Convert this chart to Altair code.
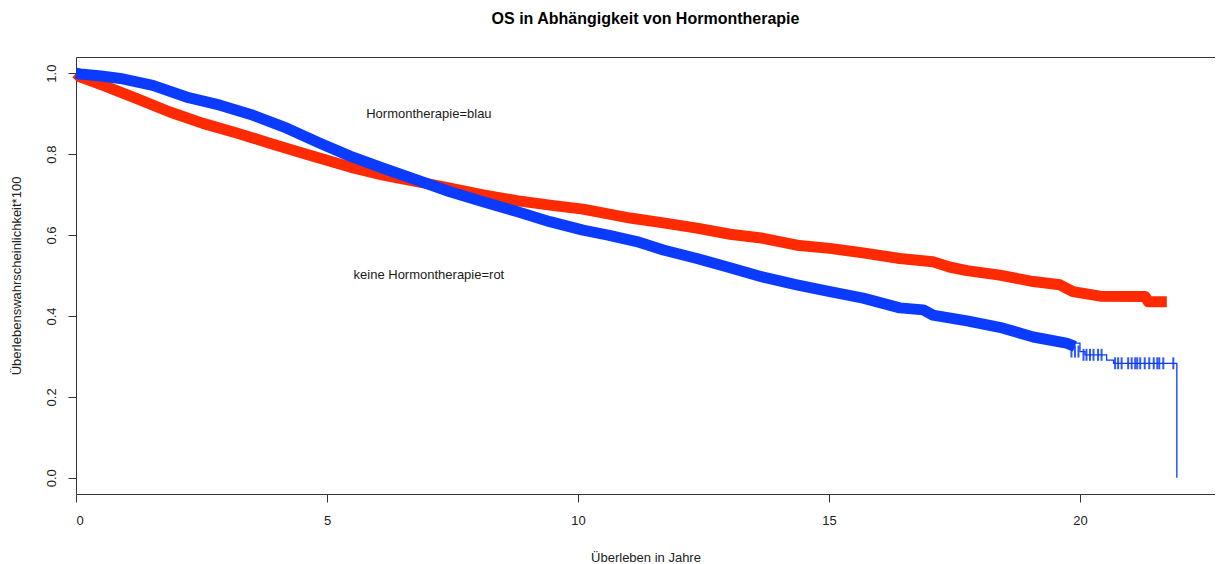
import altair as alt
import pandas as pd

# Hormontherapie (blau): dense band of censoring marks
blue_t = [0, 0.08, 0.5, 0.88, 1.53, 2.2, 2.87, 3.53, 4.2, 4.86, 5.46, 6.12, 6.79,
          7.45, 8.11, 8.78, 9.44, 10.1, 10.6, 11.17, 11.7, 12.37, 13.03, 13.69,
          14.36, 15.02, 15.68, 16.41, 16.88, 17.07, 17.75, 18.4, 19.07, 19.73, 19.9]
blue_s = [1.0, 0.998, 0.993, 0.987, 0.970, 0.941, 0.921, 0.896, 0.864, 0.827, 0.795,
          0.765, 0.736, 0.707, 0.682, 0.658, 0.633, 0.612, 0.600, 0.584, 0.563,
          0.542, 0.519, 0.496, 0.477, 0.460, 0.444, 0.420, 0.415, 0.402, 0.388,
          0.372, 0.348, 0.333, 0.325]

# blue tail: thin step curve
blue_tail_t = [19.73, 20.0, 20.1, 20.53, 20.67, 21.93]
blue_tail_s = [0.333, 0.312, 0.304, 0.291, 0.283, 0.0]

# blue tail censoring marks
blue_cens_t = [19.83, 19.90, 19.97, 20.07, 20.13, 20.20, 20.27, 20.36, 20.43,
               20.70, 20.76, 20.83, 20.96, 21.03, 21.10, 21.14, 21.20, 21.29,
               21.38, 21.47, 21.54, 21.58, 21.66, 21.86]
blue_cens_s = [0.312, 0.312, 0.312, 0.304, 0.304, 0.304, 0.304, 0.304, 0.304,
               0.283, 0.283, 0.283, 0.283, 0.283, 0.283, 0.283, 0.283, 0.283,
               0.283, 0.283, 0.283, 0.283, 0.283, 0.283]

# keine Hormontherapie (rot)
red_t = [0, 0.08, 0.54, 1.2, 1.87, 2.53, 3.2, 3.86, 4.52, 5.46, 6.12, 6.79, 7.45,
         8.11, 8.78, 9.44, 10.1, 11.04, 11.7, 12.37, 13.03, 13.69, 14.36, 15.02,
         15.68, 16.41, 17.07, 17.4, 17.75, 18.4, 19.07, 19.6, 19.86, 20.4, 21.3,
         21.36, 21.73]
red_s = [1.0, 0.991, 0.970, 0.938, 0.904, 0.876, 0.852, 0.827, 0.802, 0.768, 0.748,
         0.732, 0.716, 0.699, 0.685, 0.674, 0.664, 0.642, 0.630, 0.617, 0.602,
         0.592, 0.575, 0.567, 0.556, 0.542, 0.534, 0.521, 0.512, 0.501, 0.485,
         0.477, 0.460, 0.449, 0.448, 0.435, 0.435]

note_text = ["Hormontherapie=blau", "keine Hormontherapie=rot"]
note_x = [7.03, 7.03]
note_y = [0.899, 0.501]

x_ticks = [0, 5, 10, 15, 20]
y_ticks = [0.0, 0.2, 0.4, 0.6, 0.8, 1.0]

BLUE = "#0a3bff"
RED = "#ff2a00"
FONT = "Liberation Sans"

xs = alt.Scale(domain=[0, 22.69], nice=False, zero=False)
ys = alt.Scale(domain=[-0.04, 1.04], nice=False, zero=False)

x_enc = alt.X("t:Q", scale=xs,
              axis=alt.Axis(values=x_ticks, title="Überleben in Jahre",
                            titleY=63, titleBaseline="middle"))
y_enc = alt.Y("s:Q", scale=ys,
              axis=alt.Axis(values=y_ticks, format=".1f",
                            title="Überlebenswahrscheinlichkeit*100",
                            labelAngle=-90, labelAlign="center", labelBaseline="bottom",
                            titleX=-53, titleY=218.5))

red_df = pd.DataFrame({"t": red_t, "s": red_s})
blue_df = pd.DataFrame({"t": blue_t, "s": blue_s})
blue_tail_df = pd.DataFrame({"t": blue_tail_t, "s": blue_tail_s})
blue_cens_df = pd.DataFrame({"t": blue_cens_t, "s": blue_cens_s})
note_df = pd.DataFrame({"t": note_x, "s": note_y, "label": note_text})

red_band = alt.Chart(red_df).mark_line(color=RED, strokeWidth=11, strokeCap="butt",
                                       strokeJoin="round").encode(x=x_enc, y=y_enc)
blue_band = alt.Chart(blue_df).mark_line(color=BLUE, strokeWidth=11, strokeCap="butt",
                                         strokeJoin="round").encode(x=x_enc, y=y_enc)
blue_tail = alt.Chart(blue_tail_df).mark_line(color=BLUE, strokeWidth=1.3,
                                              interpolate="step-after").encode(x=x_enc, y=y_enc)
blue_cens = alt.Chart(blue_cens_df).mark_tick(color=BLUE, orient="vertical", size=12,
                                              thickness=2, opacity=0.85).encode(x=x_enc, y=y_enc)
notes = alt.Chart(note_df).mark_text(font=FONT, fontSize=13, color="#1a1a1a").encode(
    x=x_enc, y=y_enc, text="label:N")

chart = alt.layer(red_band, blue_band, blue_tail, blue_cens, notes).properties(
    width=1139, height=437,
    title=alt.TitleParams("OS in Abhängigkeit von Hormontherapie", fontSize=16,
                          font=FONT, fontWeight="bold", color="#000", anchor="middle",
                          offset=30),
    autosize=alt.AutoSizeParams(type="none"),
    padding={"left": 68, "top": 49, "right": 0, "bottom": 70},
).configure(font=FONT).configure_view(
    stroke="#333", strokeWidth=1
).configure_axis(
    grid=False, domain=False, tickColor="#333", tickSize=8, tickWidth=1,
    labelFont=FONT, labelFontSize=13, labelColor="#222", labelPadding=10,
    titleFont=FONT, titleFontSize=13, titleFontWeight="normal", titleColor="#222",
).configure_axisX(labelPadding=12)

chart.save("out.html", embed_options={"renderer": "svg", "actions": False})
